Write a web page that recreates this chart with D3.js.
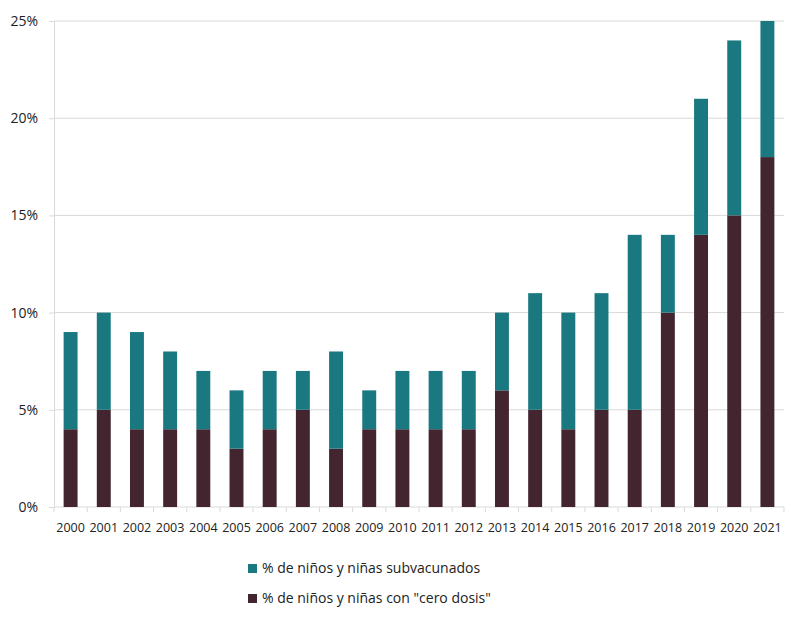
<!DOCTYPE html>
<html><head><meta charset="utf-8">
<script src="https://cdn.jsdelivr.net/npm/d3@7"></script>
<style>body{margin:0;background:#fff;} text{font-family:"Open Sans","Noto Sans",sans-serif;fill:#222;}</style>
</head><body>
<svg id="c" width="800" height="623"></svg>
<script>
const years = ["2000","2001","2002","2003","2004","2005","2006","2007","2008","2009","2010","2011","2012","2013","2014","2015","2016","2017","2018","2019","2020","2021"];
const ceroDosis = [4,5,4,4,4,3,4,5,3,4,4,4,4,6,5,4,5,5,10,14,15,18];
const subvacunados = [5,5,5,4,3,3,3,2,5,2,3,3,3,4,6,6,6,9,4,7,9,7];
const yTicks = [0,5,10,15,20,25];
const seriesNames = ["% de niños y niñas subvacunados", "% de niños y niñas con \"cero dosis\""];
const colors = {sub:"#1a7980", cero:"#432530"};

const svg = d3.select("#c");
const L=54, R=784, T=21, B=507;
const x = d3.scaleBand().domain(years).range([L,R]).paddingInner(0.58).paddingOuter(0.29);
const y = d3.scaleLinear().domain([0,25]).range([B,T]);

// grid
svg.append("g").selectAll("line").data(yTicks.filter(d=>d>0)).join("line")
  .attr("x1",L).attr("x2",R).attr("y1",d=>y(d)).attr("y2",d=>y(d))
  .attr("stroke","#d9d9d9").attr("stroke-width",1);

// y axis
const ya = svg.append("g").attr("transform",`translate(${L},0)`)
  .call(d3.axisLeft(y).tickValues(yTicks).tickFormat(d=>d+"%").tickSize(5).tickSizeOuter(0));
ya.select(".domain").attr("stroke","#d9d9d9");
ya.selectAll(".tick line").attr("stroke","#d9d9d9");
ya.selectAll("text").attr("font-size",14).attr("x",-16).attr("fill","#222");

// x axis with boundary ticks
const xa = svg.append("g").attr("transform",`translate(0,${B})`);
xa.append("line").attr("x1",L).attr("x2",R).attr("stroke","#d9d9d9");
const step = x.step();
const bounds = d3.range(years.length+1).map(i=>L+i*(R-L)/years.length);
xa.selectAll(".bt").data(bounds).join("line").attr("class","bt")
  .attr("x1",d=>d).attr("x2",d=>d).attr("y1",0).attr("y2",5).attr("stroke","#d9d9d9");
xa.selectAll(".lbl").data(years).join("text").attr("class","lbl")
  .attr("x",d=>x(d)+x.bandwidth()/2).attr("y",25).attr("text-anchor","middle")
  .attr("font-size",12.5).text(d=>d);

// bars
const g = svg.append("g");
years.forEach((yr,i)=>{
  g.append("rect").attr("x",x(yr)).attr("width",x.bandwidth())
    .attr("y",y(ceroDosis[i])).attr("height",y(0)-y(ceroDosis[i]))
    .attr("fill",colors.cero);
  g.append("rect").attr("x",x(yr)).attr("width",x.bandwidth())
    .attr("y",y(ceroDosis[i]+subvacunados[i])).attr("height",y(ceroDosis[i])-y(ceroDosis[i]+subvacunados[i]))
    .attr("fill",colors.sub);
});

// legend
const leg = svg.append("g");
[[colors.sub,seriesNames[0],568],[colors.cero,seriesNames[1],598]].forEach(([c,t,yy])=>{
  leg.append("rect").attr("x",248).attr("y",yy-4).attr("width",9).attr("height",9).attr("fill",c);
  leg.append("text").attr("x",262).attr("y",yy+5).attr("font-size",14).text(t);
});
</script>
</body></html>
